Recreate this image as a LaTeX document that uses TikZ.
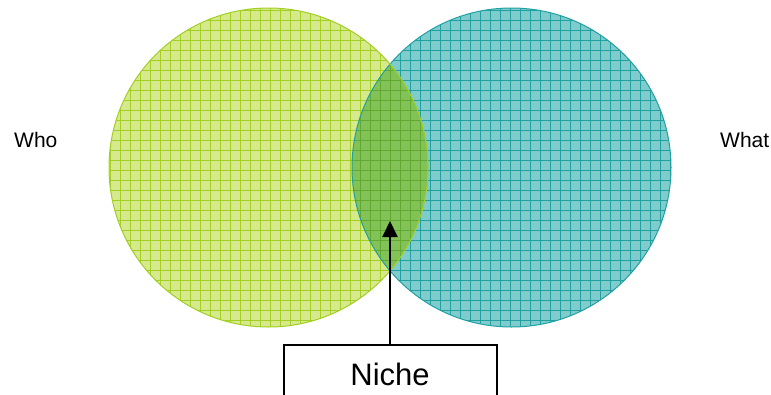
\documentclass[tikz,border=0pt]{standalone}
\usepackage{fontspec}
\setmainfont{Liberation Sans}
\usetikzlibrary{arrows.meta}
\definecolor{gfill}{RGB}{214,233,140}
\definecolor{gline}{RGB}{163,206,35}
\definecolor{tfill}{RGB}{128,204,204}
\definecolor{tline}{RGB}{32,160,160}
\definecolor{ifill}{RGB}{130,194,86}
\definecolor{iline}{RGB}{96,168,50}
\tikzset{
  gridline/.style={line width=0.75pt},
  lbl/.style={font=\fontsize{21}{25}\selectfont, anchor=base west, inner sep=0},
  nichebox/.style={draw=black, line width=2pt, minimum width=213pt, minimum height=80pt, anchor=north, inner sep=0},
  conn/.style={line width=2pt, -{Triangle[width=15pt,length=16pt]}}
}
% #1 = x start, #2 = number of 10pt cells across
\newcommand{\mygrid}[2]{%
  \foreach \gi in {0,...,#2} \draw[gridline] ({#1+\gi*10},0) -- ({#1+\gi*10},340);
  \foreach \gj in {0,...,34} \draw[gridline] (#1,{\gj*10}) -- ({#1+#2*10},{\gj*10});
}
\begin{document}
\begin{tikzpicture}[x=1pt,y=-1pt]
\useasboundingbox (0,0) rectangle (771,394);
\coordinate (cl) at (268.5,167.5);
\coordinate (cr) at (511.5,167.5);
% right circle
\fill[tfill] (cr) circle (159.5);
\begin{scope}[tline]
  \clip (cr) circle (159.5);
  \mygrid{340}{34}
\end{scope}
% left circle
\fill[gfill] (cl) circle (159.5);
\begin{scope}[gline]
  \clip (cl) circle (159.5);
  \mygrid{100}{34}
\end{scope}
% intersection
\begin{scope}[iline]
  \clip (cl) circle (159.5);
  \clip (cr) circle (159.5);
  \fill[ifill] (340,0) rectangle (440,340);
  \mygrid{340}{10}
\end{scope}
\draw[tline, line width=1pt] (cr) circle (159.5);
\draw[gline, line width=1pt] (cl) circle (159.5);
% labels
\node[lbl] (who) at (14,147) {Who};
\node[lbl] (what) at (720,147) {What};
% niche box
\node[nichebox] (box) at (390,344) {};
\node[font=\fontsize{31}{36}\selectfont, anchor=base, inner sep=0] (niche) at (390,385) {Niche};
\coordinate (tip) at (390,221);
\draw[conn] (box.north) -- (tip);
\end{tikzpicture}
\end{document}
